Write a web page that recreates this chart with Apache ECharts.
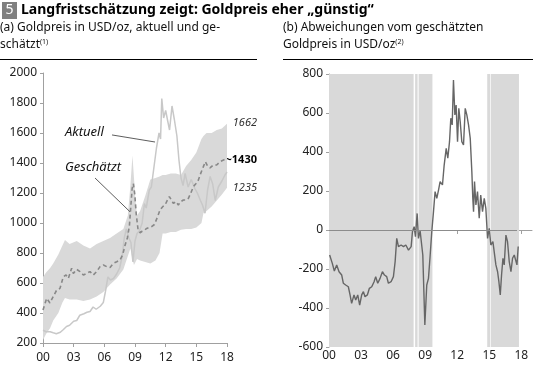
<!DOCTYPE html>
<html><head><meta charset="utf-8">
<script src="https://cdn.jsdelivr.net/npm/echarts@6/dist/echarts.min.js"></script>
<style>html,body{margin:0;padding:0;background:#fff}#c{width:533px;height:371px}</style>
</head><body><div id="c"></div>
<script>
// ---- data ----
const xTickValues = [0, 3, 6, 9, 12, 15, 18];
const xTickLabels = ['00', '03', '06', '09', '12', '15', '18'];

// (a) estimated gold price (dashed)
const estYears = [0,0.36,0.68,1.01,1.34,1.66,1.99,2.25,2.48,2.8,2.97,3.29,3.62,3.95,4.27,4.6,4.92,5.25,5.58,5.9,6.23,6.56,6.88,7.21,7.53,7.79,8.02,8.25,8.45,8.6,8.72,8.84,8.98,9.12,9.3,9.5,9.7,9.9,10.14,10.37,10.63,10.9,11.2,11.45,11.71,11.94,12.17,12.36,12.53,12.75,13.01,13.24,13.47,13.73,13.99,14.22,14.45,14.71,14.97,15.2,15.43,15.69,15.88,16.08,16.34,16.66,16.99,17.32,17.65,17.97];
const estValues = [420,498,467,511,553,564,642,653,631,698,664,691,676,653,664,676,653,676,709,720,709,704,731,742,753,787,850,900,980,1120,1230,1262,1190,1060,955,935,945,950,964,970,976,990,1040,1087,1109,1120,1153,1176,1164,1131,1142,1120,1142,1153,1153,1164,1198,1242,1264,1287,1331,1376,1409,1382,1367,1387,1387,1409,1420,1431];

// (a) actual gold price (light line)
const actYears = [0,0.3,0.7,1.0,1.3,1.7,2.0,2.3,2.6,3.0,3.3,3.6,4.0,4.3,4.6,4.9,5.2,5.6,5.9,6.1,6.35,6.6,6.9,7.2,7.5,7.75,7.95,8.15,8.4,8.6,8.8,9.0,9.2,9.45,9.7,9.92,10.1,10.4,10.6,10.85,11.1,11.35,11.5,11.62,11.8,12.0,12.2,12.38,12.62,12.85,13.1,13.3,13.5,13.7,13.9,14.2,14.5,14.85,15.1,15.4,15.6,15.85,16.1,16.35,16.6,16.85,17.15,17.5,17.8,18.0];
const actValues = [285,275,275,268,262,272,290,310,318,345,350,385,395,405,410,440,425,445,470,540,640,620,630,660,700,780,900,960,900,870,740,880,930,950,1000,1130,1100,1220,1240,1370,1500,1600,1560,1830,1700,1750,1680,1620,1780,1690,1580,1420,1300,1250,1330,1240,1290,1230,1200,1150,1120,1065,1220,1310,1260,1150,1240,1280,1320,1340];

// (a) estimation band
const bandYears = [0,0.3,0.7,1.0,1.5,1.9,2.15,2.6,3.3,3.95,4.6,5.25,5.9,6.56,7.2,7.86,8.3,8.55,8.75,8.9,9.05,9.2,9.5,10.0,10.5,11.0,11.4,11.7,12.0,12.5,13.0,13.5,14.0,14.5,15.0,15.5,15.7,16.0,16.5,17.0,17.5,18.0];
const bandLower = [220,260,300,350,400,470,500,490,490,480,490,510,540,590,630,690,780,830,760,720,740,760,750,740,730,750,800,930,930,940,940,955,960,960,970,1000,1067,1080,1110,1150,1190,1235];
const bandUpper = [640,670,700,730,790,850,887,860,880,850,830,860,880,900,930,960,1050,1250,1450,1300,1150,1050,1080,1180,1290,1300,1310,1320,1320,1330,1330,1320,1380,1420,1470,1560,1580,1600,1600,1620,1630,1662];

// (b) deviation from estimated price
const devYears = [0.06,0.31,0.5,0.72,0.94,1.19,1.34,1.56,1.81,1.97,2.12,2.34,2.5,2.69,2.87,3.06,3.22,3.37,3.59,3.78,4.0,4.22,4.37,4.56,4.78,5.0,5.19,5.4,5.56,5.81,6.03,6.19,6.34,6.5,6.75,6.97,7.19,7.44,7.69,7.81,7.97,8.09,8.25,8.37,8.53,8.78,8.97,9.15,9.31,9.47,9.62,9.78,9.93,10.09,10.25,10.4,10.62,10.78,10.97,11.12,11.28,11.4,11.53,11.65,11.78,11.9,12.03,12.15,12.28,12.43,12.59,12.75,12.9,13.06,13.22,13.37,13.46,13.53,13.62,13.75,13.9,14.06,14.2,14.37,14.53,14.68,14.84,15.0,15.15,15.34,15.46,15.62,15.78,15.9,16.03,16.15,16.28,16.4,16.56,16.71,16.87,17.03,17.18,17.34,17.5,17.59,17.71];
const devValues = [-128,-171,-210,-179,-214,-231,-273,-282,-291,-333,-376,-333,-359,-333,-385,-333,-316,-342,-333,-299,-291,-265,-239,-273,-248,-214,-231,-239,-273,-265,-239,-162,-43,-85,-77,-85,-77,-103,-85,-9,17,-34,85,-43,-5,-128,-487,-282,-248,-128,-9,94,197,162,205,248,231,333,419,368,453,573,539,769,590,641,453,624,556,453,436,624,590,539,470,299,162,94,248,128,197,60,179,94,162,111,-43,9,-77,-60,-111,-179,-214,-265,-333,-231,-145,-179,-26,-60,-162,-214,-145,-128,-128,-179,-85];

// (b) shaded "expensive/cheap" periods (start, end in years since 2000)
const shadeStarts = [0, 8.06, 8.39, 14.81, 15.15];
const shadeEnds   = [7.92, 8.29, 9.68, 15.09, 17.78];

// ---- chart ----
const FONT = 'Noto Sans';
const zip = (a, b) => a.map((v, i) => [v, b[i]]);
const fmtX = v => { const i = xTickValues.indexOf(v); return i >= 0 ? xTickLabels[i] : ''; };

const axisColor = '#a0a0a0';
const labelStyle = { color: '#222', fontSize: 12, fontFamily: FONT };

function xAxis(gridIndex, max, margin) {
  return {
    type: 'value', gridIndex, min: 0, max, interval: 3,
    axisLine: { show: true, lineStyle: { color: axisColor, width: 1 } },
    axisTick: { show: true, length: 4, lineStyle: { color: axisColor }, customValues: xTickValues },
    axisLabel: Object.assign({ margin, formatter: fmtX, customValues: xTickValues }, labelStyle),
    splitLine: { show: false }
  };
}
function yAxis(gridIndex, min, max) {
  return {
    type: 'value', gridIndex, min, max, interval: 200,
    axisLine: { show: true, lineStyle: { color: axisColor, width: 1 } },
    axisTick: { show: true, length: 3, lineStyle: { color: axisColor } },
    axisLabel: Object.assign({ margin: 6, formatter: v => String(v) }, labelStyle),
    splitLine: { show: false }
  };
}

function renderBand(params, api) {
  if (params.dataIndex !== 0) return null;
  const pts = [];
  for (let i = 0; i < bandYears.length; i++) pts.push(api.coord([bandYears[i], bandUpper[i]]));
  for (let i = bandYears.length - 1; i >= 0; i--) pts.push(api.coord([bandYears[i], bandLower[i]]));
  return { type: 'polygon', shape: { points: pts }, style: { fill: '#d9d9d9' } };
}

const chart = echarts.init(document.getElementById('c'), null, { renderer: 'canvas' });
chart.setOption({
  animation: false,
  backgroundColor: '#fff',
  textStyle: { fontFamily: FONT },
  grid: [
    { left: 43, top: 73, width: 184, height: 270 },
    { left: 329, top: 74, width: 203, height: 273 }
  ],
  xAxis: [xAxis(0, 18, 9), xAxis(1, 19, 3)],
  yAxis: [yAxis(0, 200, 2000), yAxis(1, -600, 800)],
  series: [
    { type: 'custom', xAxisIndex: 0, yAxisIndex: 0, silent: true, z: 1,
      data: bandYears.map((y, i) => [y, bandLower[i], bandUpper[i]]),
      encode: { x: 0, y: [1, 2] }, renderItem: renderBand },
    { type: 'line', xAxisIndex: 0, yAxisIndex: 0, data: zip(actYears, actValues), symbol: 'none',
      lineStyle: { color: '#c8c8c8', width: 1.5 }, silent: true, z: 2,
      markLine: { symbol: 'none', silent: true, label: { show: false },
        lineStyle: { color: '#333', width: 0.8, type: 'solid' },
        data: [
          [{ coord: [6.75, 1587] }, { coord: [10.96, 1540] }],
          [{ coord: [5.09, 1300] }, { coord: [8.51, 1075] }]
        ] } },
    { type: 'line', xAxisIndex: 0, yAxisIndex: 0, data: zip(estYears, estValues), symbol: 'none',
      lineStyle: { color: '#888', width: 1.6, type: [4, 3] }, silent: true, z: 3 },
    { type: 'line', xAxisIndex: 1, yAxisIndex: 1, data: zip(devYears, devValues), symbol: 'none',
      lineStyle: { color: '#666', width: 1.4 }, silent: true, z: 3,
      markArea: { silent: true, itemStyle: { color: '#d9d9d9' },
        data: shadeStarts.map((s, i) => [{ xAxis: s }, { xAxis: shadeEnds[i] }]) },
      markLine: { symbol: 'none', silent: true, label: { show: false },
        lineStyle: { color: '#8c8c8c', width: 1, type: 'solid' },
        data: [[{ coord: [0, 0] }, { coord: [17.6, 0] }]] } }
  ],
  graphic: [
    { type: 'rect', shape: { x: 2, y: 2, width: 15, height: 17 }, style: { fill: '#808080' } },
    { type: 'text', x: 9.5, y: 10.5, style: { text: '5', fill: '#fff', font: '14px "Noto Sans"', align: 'center', verticalAlign: 'middle' } },
    { type: 'text', x: 21, y: 10.5, style: { text: 'Langfristschätzung zeigt: Goldpreis eher „günstig“', fill: '#000', font: 'bold 14px "Noto Sans"', verticalAlign: 'middle' } },
    { type: 'text', x: 0, y: 27.5, style: { text: '(a) Goldpreis in USD/oz, aktuell und ge-', fill: '#111', font: '12px "Noto Sans"', verticalAlign: 'middle' } },
    { type: 'text', x: 0, y: 38, style: { rich: { n: { fontSize: 12, fontFamily: FONT, fill: '#111', lineHeight: 14 }, s: { fontSize: 7, fontFamily: FONT, fill: '#111', lineHeight: 14, padding: [0, 0, 6, 0] } }, text: '{n|schätzt}{s|(1)}', verticalAlign: 'top' } },
    { type: 'text', x: 283, y: 27.5, style: { text: '(b) Abweichungen vom geschätzten', fill: '#111', font: '12px "Noto Sans"', verticalAlign: 'middle' } },
    { type: 'text', x: 283, y: 38, style: { rich: { n: { fontSize: 12, fontFamily: FONT, fill: '#111', lineHeight: 14 }, s: { fontSize: 7, fontFamily: FONT, fill: '#111', lineHeight: 14, padding: [0, 0, 6, 0] } }, text: '{n|Goldpreis in USD/oz}{s|(2)}', verticalAlign: 'top' } },
    { type: 'line', shape: { x1: 0, y1: 59.5, x2: 257, y2: 59.5 }, style: { stroke: '#000', lineWidth: 1 } },
    { type: 'line', shape: { x1: 283, y1: 59.5, x2: 533, y2: 59.5 }, style: { stroke: '#000', lineWidth: 1 } },
    { type: 'text', x: 65, y: 132, style: { text: 'Aktuell', fill: '#111', font: 'italic 13px "Noto Sans"', verticalAlign: 'middle' } },
    { type: 'text', x: 65, y: 167, style: { text: 'Geschätzt', fill: '#111', font: 'italic 13px "Noto Sans"', verticalAlign: 'middle' } },
    { type: 'text', x: 257, y: 123, style: { text: '1662', fill: '#333', font: 'italic 11px "Noto Sans"', align: 'right', verticalAlign: 'middle' } },
    { type: 'text', x: 257, y: 160, style: { text: '~1430', fill: '#000', font: 'bold 11px "Noto Sans"', align: 'right', verticalAlign: 'middle' } },
    { type: 'text', x: 257, y: 188, style: { text: '1235', fill: '#333', font: 'italic 11px "Noto Sans"', align: 'right', verticalAlign: 'middle' } },
    { type: 'text', x: 346, y: 167, style: { text: '"Teuer"', fill: '#111', font: 'italic 13px "Noto Sans"', verticalAlign: 'middle' } },
    { type: 'text', x: 346, y: 328, style: { text: '"Günstig"', fill: '#111', font: 'italic 13px "Noto Sans"', verticalAlign: 'middle' } }
  ]
});
</script></body></html>
